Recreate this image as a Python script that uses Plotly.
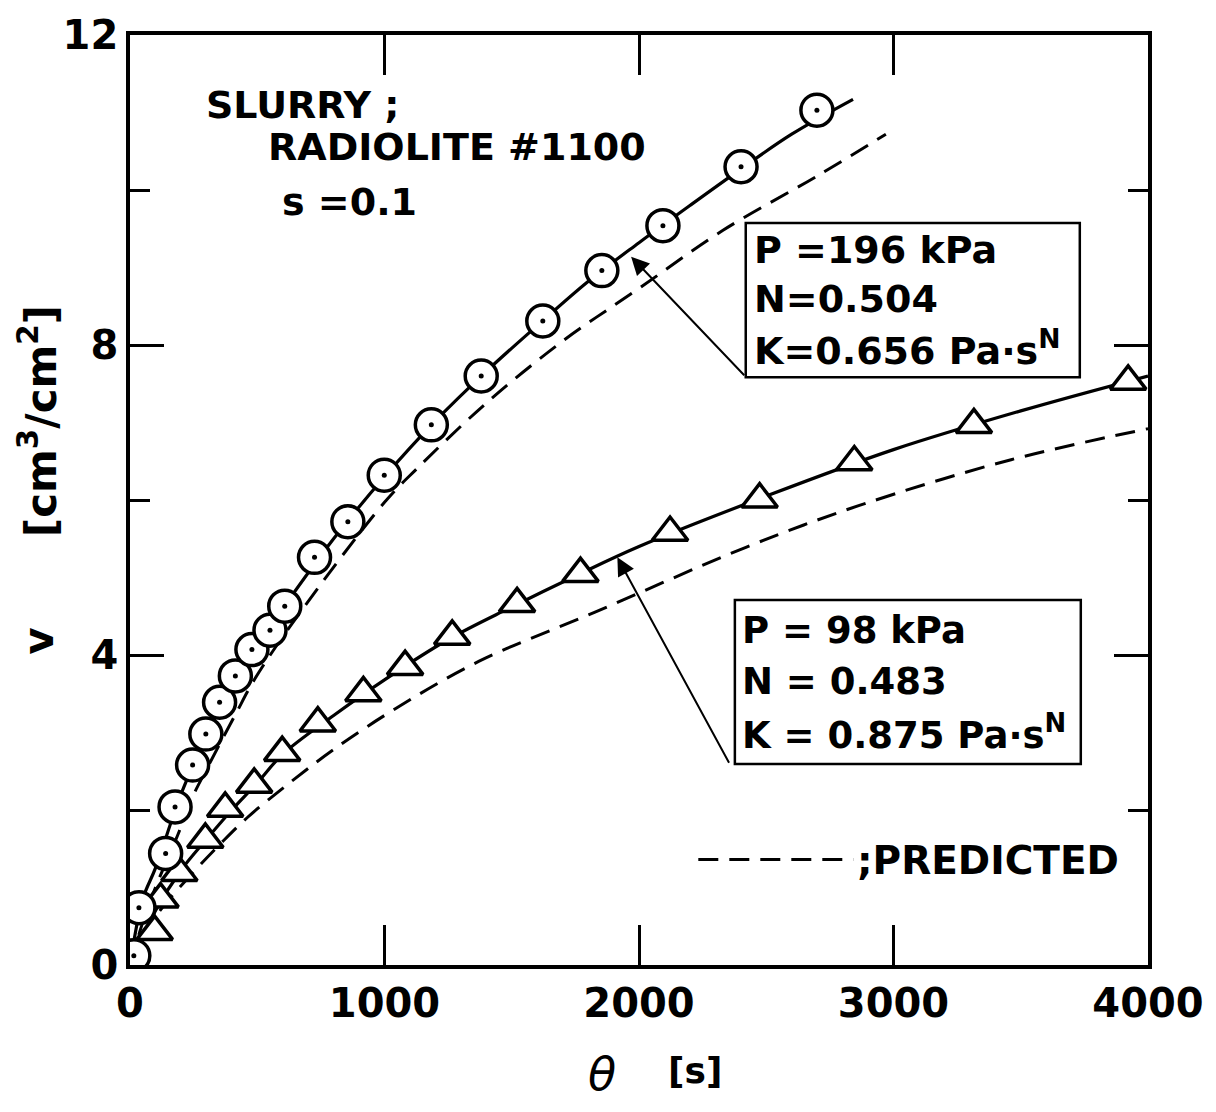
import plotly.graph_objects as go

# ---------------- data ----------------
# P = 196 kPa : measured points (circles)
circ_theta = [15, 35, 140, 177, 246, 298, 352, 414, 479, 550, 608, 725, 856, 999,
              1184, 1380, 1622, 1854, 2094, 2401, 2699]
circ_v = [0.12, 0.74, 1.44, 2.04, 2.58, 2.98, 3.39, 3.73, 4.07, 4.32, 4.63, 5.26, 5.72, 6.32,
          6.97, 7.60, 8.31, 8.96, 9.54, 10.30, 11.03]

# P = 98 kPa : measured points (triangles)
tri_theta = [97, 120, 194, 296, 374, 488, 598, 738, 917, 1081, 1266, 1521, 1770,
             2122, 2474, 2846, 3316, 3922]
tri_v = [0.43, 0.85, 1.19, 1.62, 2.02, 2.33, 2.74, 3.12, 3.51, 3.85, 4.24, 4.66, 5.05,
         5.58, 6.01, 6.49, 6.97, 7.53]

# fitted (solid) curves
fit196_theta = [0, 50, 100, 200, 300, 400, 500, 600, 800, 1000, 1200, 1400, 1600, 1800,
                2000, 2200, 2400, 2600, 2841]
fit196_v = [0, 0.85, 1.25, 2.2, 2.95, 3.6, 4.12, 4.6, 5.5, 6.3, 7.02, 7.66, 8.25, 8.82,
            9.32, 9.8, 10.27, 10.72, 11.17]

fit98_theta = [0, 100, 200, 300, 400, 500, 600, 800, 1000, 1250, 1500, 1750, 2000, 2500,
               3000, 3500, 4000]
fit98_v = [0, 0.7, 1.22, 1.62, 2.0, 2.35, 2.72, 3.22, 3.68, 4.2, 4.62, 5.02, 5.4, 6.05,
           6.65, 7.15, 7.6]

# predicted (dashed) curves
pred196_theta = [0, 50, 100, 194, 233, 311, 414, 492, 660, 1000, 1126, 1400, 1700, 2000,
                 2330, 2700, 2970]
pred196_v = [0, 0.55, 1.0, 1.73, 2.08, 2.59, 3.23, 3.70, 4.51, 5.97, 6.40, 7.25, 8.05, 8.73,
             9.48, 10.18, 10.72]

pred98_theta = [0, 100, 250, 360, 460, 608, 800, 1049, 1372, 1825, 2420, 2866, 3462, 4000]
pred98_v = [0, 0.62, 1.2, 1.58, 1.9, 2.3, 2.78, 3.32, 3.92, 4.55, 5.39, 5.93, 6.52, 6.92]

x_ticks = [0, 1000, 2000, 3000, 4000]
y_ticks = [0, 4, 8, 12]
y_minor = [2, 6, 10]

box196 = ["P =196 kPa", "N=0.504", "K=0.656 Pa·s<sup>N</sup>"]
box98 = ["P = 98 kPa", "N = 0.483", "K = 0.875 Pa·s<sup>N</sup>"]

# ---------------- figure ----------------
FONT = "DejaVu Sans"
L, R, T, B = 130, 56, 30, 147
W, H = 1216, 1112
PW, PH = W - L - R, H - T - B


def pp(xpx, ypx):
    """pixel position -> paper coords"""
    return (xpx - L) / PW, (H - B - ypx) / PH


fig = go.Figure()

dash_line = dict(color="black", width=3, dash="20px,11px")
solid_line = dict(color="black", width=3.2)

for xs, ys in [(pred196_theta, pred196_v), (pred98_theta, pred98_v)]:
    fig.add_trace(go.Scatter(x=xs, y=ys, mode="lines", line=dash_line,
                             line_shape="spline", hoverinfo="skip"))
for xs, ys in [(fit196_theta, fit196_v), (fit98_theta, fit98_v)]:
    fig.add_trace(go.Scatter(x=xs, y=ys, mode="lines", line=solid_line,
                             line_shape="spline", hoverinfo="skip"))

fig.add_trace(go.Scatter(x=tri_theta, y=tri_v, mode="markers",
                         marker=dict(symbol="triangle-up", size=31, color="white",
                                     line=dict(color="black", width=3.5))))
fig.add_trace(go.Scatter(x=circ_theta, y=circ_v, mode="markers",
                         marker=dict(symbol="circle", size=32, color="white",
                                     line=dict(color="black", width=3.5))))
fig.add_trace(go.Scatter(x=circ_theta, y=circ_v, mode="markers",
                         marker=dict(symbol="circle", size=5, color="black")))

axis_common = dict(showline=True, linewidth=3.5, linecolor="black", mirror="ticks",
                   showgrid=False, zeroline=False, ticks="inside", tickwidth=2.5,
                   tickcolor="black",
                   tickfont=dict(family=FONT, size=40, color="black", weight="bold"))

fig.update_xaxes(range=[0, 4000], tickvals=x_ticks, ticklen=40, **axis_common)
fig.update_yaxes(range=[0, 12], tickvals=y_ticks, ticklen=34,
                 minor=dict(tickvals=y_minor, ticks="inside", ticklen=20,
                            tickwidth=2.5, tickcolor="black", showgrid=False),
                 **axis_common)

fig.update_layout(width=W, height=H, margin=dict(l=L, r=R, t=T, b=B),
                  plot_bgcolor="white", paper_bgcolor="white", showlegend=False,
                  font=dict(family=FONT, color="black"))


def text(s, xpx, ypx, size=38, xanchor="left", angle=0, weight="bold"):
    x, y = pp(xpx, ypx)
    fig.add_annotation(x=x, y=y, xref="paper", yref="paper", text=s, showarrow=False,
                       xanchor=xanchor, yanchor="middle", textangle=angle,
                       font=dict(family=FONT, size=size, color="black", weight=weight))


# sample description
text("SLURRY ;", 205, 100)
text("RADIOLITE #1100", 268, 143)
text("s =0.1", 282, 198)

# parameter boxes
for (x0, y0, x1, y1) in [(753, 219, 1091, 374), (742, 598, 1092, 763)]:
    a0, b0 = pp(x0, y1)
    a1, b1 = pp(x1, y0)
    fig.add_shape(type="rect", xref="paper", yref="paper", x0=a0, y0=b0, x1=a1, y1=b1,
                  line=dict(color="black", width=2.5), fillcolor="rgba(0,0,0,0)")
for s, yp in zip(box196, [246, 295, 345]):
    text(s, 759, yp, size=38)
for s, yp in zip(box98, [629, 680, 731]):
    text(s, 747, yp, size=37)

# arrows from boxes to curves
for tip, tail in [((1969, 9.14), (2419, 7.59)), ((1915, 5.26), (2357, 2.59))]:
    fig.add_annotation(x=tip[0], y=tip[1], ax=tail[0], ay=tail[1], xref="x", yref="y",
                       axref="x", ayref="y", text="", showarrow=True, arrowhead=2,
                       arrowsize=1.8, arrowwidth=2, arrowcolor="black", standoff=0)

# predicted legend
lx0, ly = pp(705, 859)
lx1, _ = pp(862, 859)
fig.add_shape(type="line", xref="paper", yref="paper", x0=lx0, x1=lx1, y0=ly, y1=ly,
              line=dash_line)
text(";PREDICTED", 864, 860, size=39)

# axis titles
text("v", 38, 640, size=42, xanchor="center", angle=-90)
text("[cm<sup>3</sup>/cm<sup>2</sup>]", 38, 418, size=42, xanchor="center", angle=-90)
text("<i>θ</i>", 608, 1075, size=46, xanchor="center", weight="normal")
text("[s]", 702, 1071, size=36, xanchor="center")

fig.write_html("out.html")
